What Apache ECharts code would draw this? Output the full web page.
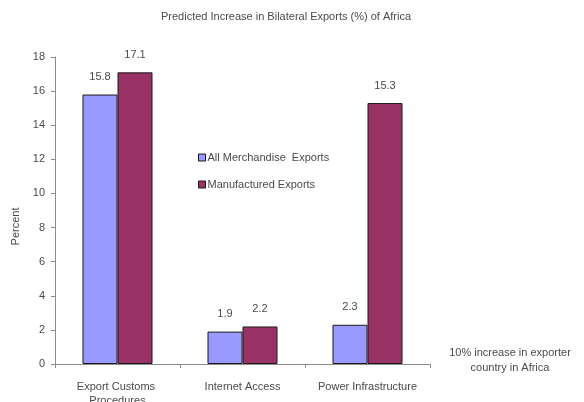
<!DOCTYPE html>
<html>
<head>
<meta charset="utf-8">
<script src="https://cdn.jsdelivr.net/npm/echarts@6/dist/echarts.min.js"></script>
<style>
  html, body { margin: 0; padding: 0; background: #fff; }
  #chart { width: 584px; height: 402px; }
</style>
</head>
<body>
<div id="chart"></div>
<script>
// Categories and values for the predicted export increases
const categories = ['Export Customs Procedures', 'Internet Access', 'Power Infrastructure'];
const merchandise = [15.8, 1.9, 2.3];
const manufactured = [17.1, 2.2, 15.3];
const yTicks = { min: 0, max: 18, interval: 2 };

const font = 'Liberation Sans, Arial, sans-serif';
const textGrey = '#4a4a4a';

const chart = echarts.init(document.getElementById('chart'));

function barSeries(name, data, color) {
  return {
    name: name,
    type: 'bar',
    data: data,
    barWidth: 35,
    barGap: '0%',
    itemStyle: { color: color, borderColor: '#1a1a1a', borderWidth: 1 },
    label: {
      show: true,
      position: 'top',
      distance: 12,
      color: textGrey,
      fontFamily: font,
      fontSize: 11,
      formatter: p => p.value.toFixed(1)
    }
  };
}

chart.setOption({
  animation: false,
  backgroundColor: '#fff',
  title: {
    text: 'Predicted Increase in Bilateral Exports (%) of Africa',
    left: 281,
    textAlign: 'center',
    top: 6,
    textStyle: { fontFamily: font, fontSize: 11, fontWeight: 'normal', color: textGrey }
  },
  legend: {
    orient: 'vertical',
    left: 193,
    top: 147,
    itemWidth: 7,
    itemHeight: 7,
    itemGap: 16,
    icon: 'rect',
    textStyle: { fontFamily: font, fontSize: 11, color: textGrey, padding: [0, 0, 0, -3] },
    data: [
      { name: 'All Merchandise  Exports', itemStyle: { borderColor: '#1a1a1a', borderWidth: 1 } },
      { name: 'Manufactured Exports', itemStyle: { borderColor: '#1a1a1a', borderWidth: 1 } }
    ]
  },
  grid: { left: 55, right: 154, top: 57, bottom: 38, containLabel: false, outerBoundsMode: 'none' },
  xAxis: {
    type: 'category',
    data: categories,
    axisLine: { lineStyle: { color: '#8c8c8c', width: 1 } },
    axisTick: { show: true, length: 4, lineStyle: { color: '#8c8c8c' } },
    axisLabel: {
      interval: 0,
      margin: 16,
      color: textGrey,
      fontFamily: font,
      fontSize: 11,
      width: 100,
      overflow: 'break',
      lineHeight: 14
    }
  },
  yAxis: {
    type: 'value',
    min: yTicks.min,
    max: yTicks.max,
    interval: yTicks.interval,
    name: 'Percent',
    nameLocation: 'middle',
    nameGap: 29,
    nameRotate: 90,
    nameTextStyle: { fontFamily: font, fontSize: 11, color: textGrey, padding: [0, 32, 0, 0] },
    axisLine: { show: true, lineStyle: { color: '#8c8c8c', width: 1 } },
    axisTick: { show: true, length: 4, lineStyle: { color: '#8c8c8c' } },
    splitLine: { show: false },
    axisLabel: { margin: 10, color: textGrey, fontFamily: font, fontSize: 11 }
  },
  graphic: [{
    type: 'text',
    x: 510,
    y: 345,
    style: {
      text: '10% increase in exporter\ncountry in Africa',
      align: 'center',
      fill: textGrey,
      font: '11px ' + font,
      lineHeight: 15
    }
  }],
  series: [
    barSeries('All Merchandise  Exports', merchandise, '#9999ff'),
    barSeries('Manufactured Exports', manufactured, '#993366')
  ]
});
</script>
</body>
</html>
